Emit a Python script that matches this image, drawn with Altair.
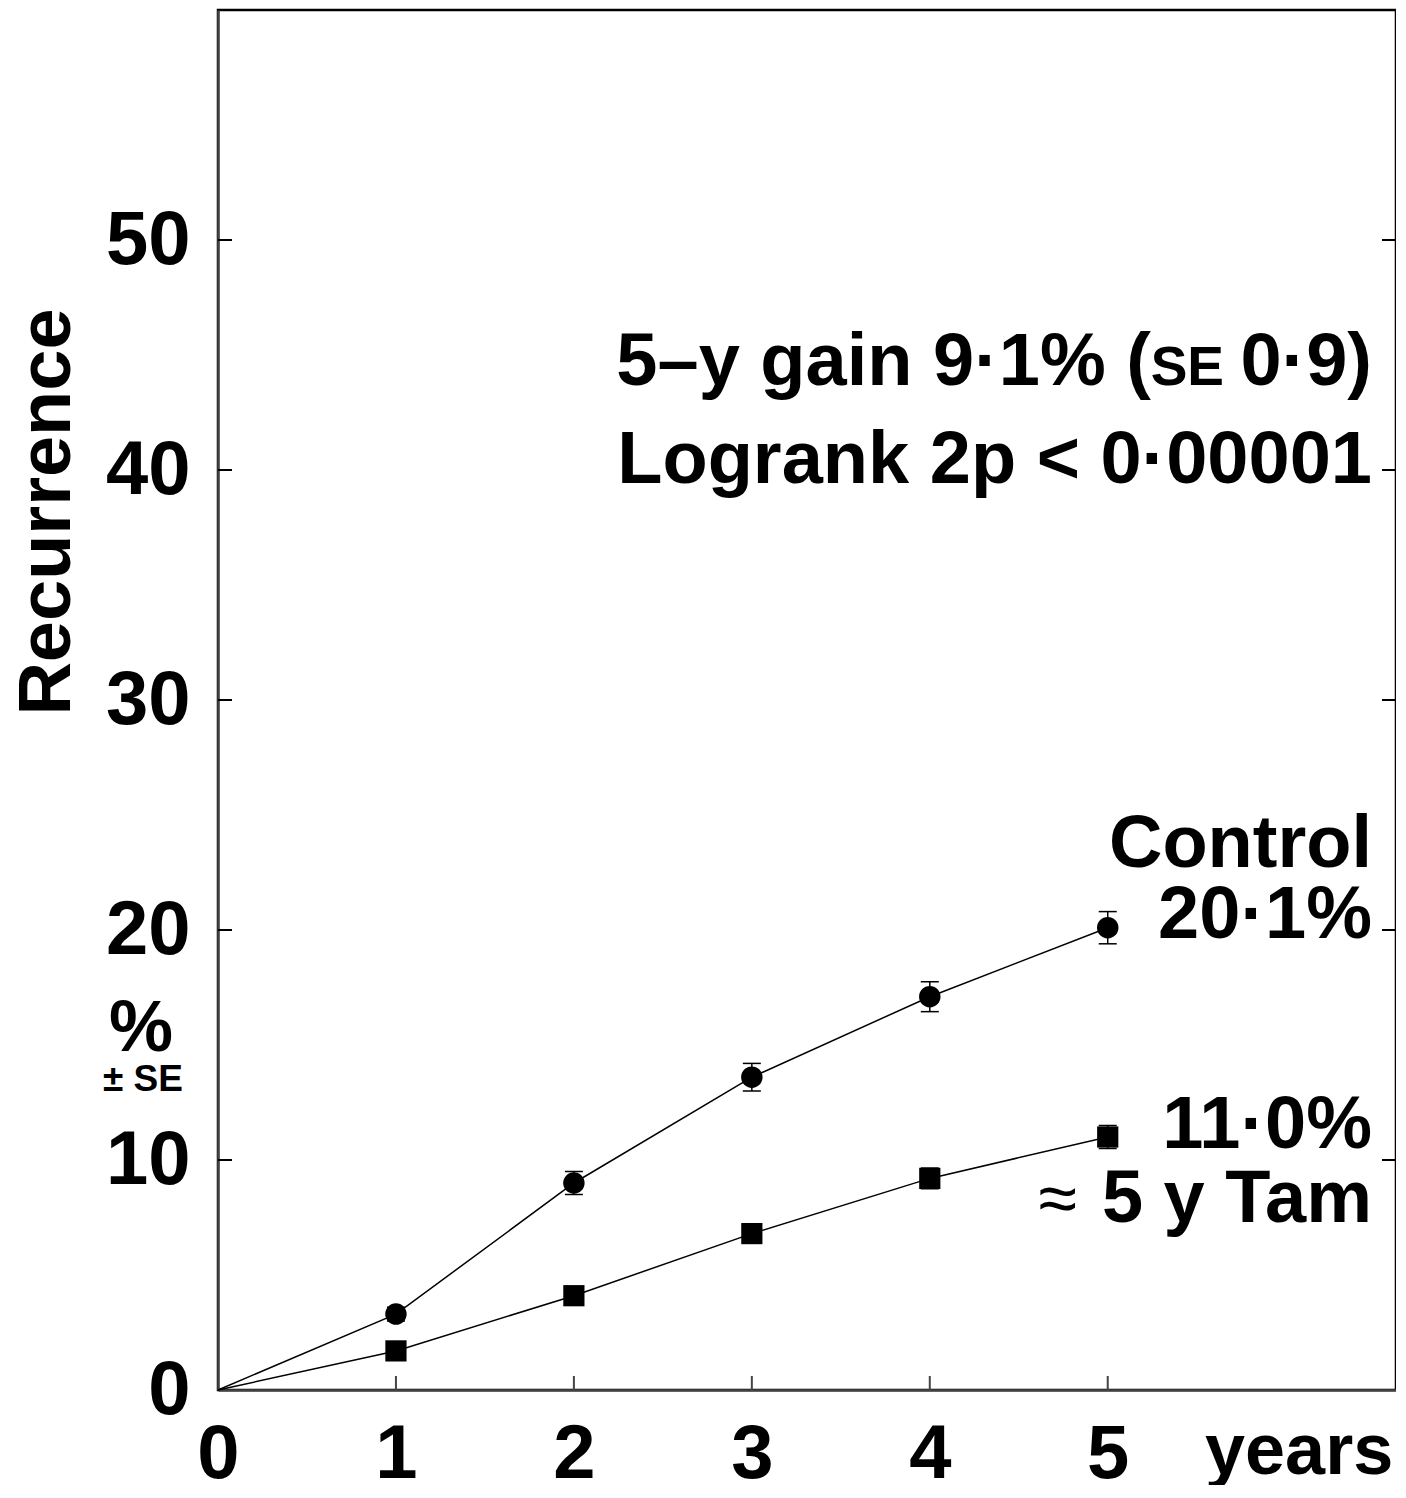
import altair as alt
import pandas as pd

years = [0, 1, 2, 3, 4, 5]
control = [0, 3.3, 9.0, 13.6, 17.1, 20.1]
control_se = [0, 0.3, 0.5, 0.6, 0.65, 0.7]
tam = [0, 1.7, 4.1, 6.8, 9.2, 11.0]
tam_se = [0, 0.3, 0.35, 0.4, 0.45, 0.5]

y_ticks = [0, 10, 20, 30, 40, 50]
x_ticks = [0, 1, 2, 3, 4, 5]

FONT = "Liberation Sans"
W, H = 1178, 1380
XMAX, YMAX = 6.62, 60

rows = []
for i, yr in enumerate(years):
    rows.append({"year": yr, "pct": control[i], "se": control_se[i], "group": "Control"})
    rows.append({"year": yr, "pct": tam[i], "se": tam_se[i], "group": "Tam"})
df = pd.DataFrame(rows)
df["lo"] = df["pct"] - df["se"]
df["hi"] = df["pct"] + df["se"]
pts = df[df["year"] > 0]

xs = alt.Scale(domain=[0, XMAX], nice=False, zero=True)
ys = alt.Scale(domain=[0, YMAX], nice=False, zero=True)

X = alt.X("year:Q", scale=xs,
          axis=alt.Axis(values=x_ticks, format="d", title=None, ticks=False, grid=False,
                        labelFontSize=76, labelFont=FONT, labelFontWeight="bold",
                        labelColor="black", labelPadding=27, domainColor="#444",
                        domainWidth=2.5, labelFlush=False))
Y = alt.Y("pct:Q", scale=ys,
          axis=alt.Axis(values=y_ticks, format="d", title=None, ticks=False, grid=False,
                        labelFontSize=76, labelFont=FONT, labelFontWeight="bold",
                        labelColor="black", labelPadding=28, domainColor="#444",
                        domainWidth=2.5, labelFlush=False))

base = alt.Chart(df)

lines = base.mark_line(color="black", strokeWidth=1.5).encode(
    x=X, y=Y, detail="group:N", order="year:Q")

err = alt.Chart(pts).mark_rule(color="black", strokeWidth=1.5).encode(
    x=alt.X("year:Q", scale=xs), y=alt.Y("lo:Q", scale=ys), y2="hi:Q")
cap_hi = alt.Chart(pts).mark_rule(color="black", strokeWidth=1.5, xOffset=-9, x2Offset=9).encode(
    x=alt.X("year:Q", scale=xs), x2="year:Q", y=alt.Y("hi:Q", scale=ys))
cap_lo = alt.Chart(pts).mark_rule(color="black", strokeWidth=1.5, xOffset=-9, x2Offset=9).encode(
    x=alt.X("year:Q", scale=xs), x2="year:Q", y=alt.Y("lo:Q", scale=ys))

circles = alt.Chart(pts[pts["group"] == "Control"]).mark_point(
    shape="circle", filled=True, size=460, color="black", opacity=1).encode(
    x=alt.X("year:Q", scale=xs), y=alt.Y("pct:Q", scale=ys))
squares = alt.Chart(pts[pts["group"] == "Tam"]).mark_point(
    shape="square", filled=True, size=450, color="black", opacity=1).encode(
    x=alt.X("year:Q", scale=xs), y=alt.Y("pct:Q", scale=ys))

ytick_df = pd.DataFrame({"v": y_ticks[1:]})
xtick_df = pd.DataFrame({"v": x_ticks[1:]})
left_ticks = alt.Chart(ytick_df).mark_rule(color="black", strokeWidth=2).encode(
    x=alt.value(0), x2=alt.value(14), y=alt.Y("v:Q", scale=ys))
right_ticks = alt.Chart(ytick_df).mark_rule(color="black", strokeWidth=2).encode(
    x=alt.value(W - 14), x2=alt.value(W), y=alt.Y("v:Q", scale=ys))
bottom_ticks = alt.Chart(xtick_df).mark_rule(color="#444", strokeWidth=2).encode(
    x=alt.X("v:Q", scale=xs), y=alt.value(H - 14), y2=alt.value(H))


def txt(s, x, y, size=74, align="right", weight="bold", angle=0, baseline="alphabetic"):
    return alt.Chart(pd.DataFrame({"t": [s]})).mark_text(
        font=FONT, fontSize=size, fontWeight=weight, align=align, baseline=baseline,
        color="black", angle=angle).encode(
        text="t:N", x=alt.value(x), y=alt.value(y))


RX = 1154
texts = [
    txt("5\u2013y gain 9\u00b71% (", RX - 221, 375),
    txt("SE", RX - 148, 375, size=55),
    txt("0\u00b79)", RX, 375),
    txt("Logrank 2p < 0\u00b700001", RX, 473),
    txt("Control", RX, 857),
    txt("20\u00b71%", RX, 928),
    txt("11\u00b70%", RX, 1138),
    txt("5 y Tam", RX, 1212),
    txt("\u2248", RX - 295, 1212, size=70, weight="normal"),
    txt("years", 987, 1464, size=72, align="left"),
    txt("Recurrence", -148, 502, size=74, align="center", angle=270),
    txt("%", -77, 1041, size=72, align="center"),
    txt("\u00b1 SE", -75, 1081, size=37, align="center"),
]

chart = alt.layer(
    lines, err, cap_hi, cap_lo, circles, squares,
    left_ticks, right_ticks, bottom_ticks, *texts
).properties(
    width=W, height=H,
    background="white",
    autosize=alt.AutoSizeParams(type="none"),
    padding={"left": 210, "top": 2, "right": 0, "bottom": 95},
).configure_view(
    stroke="black", strokeWidth=2.5
)

chart.save("out.html", embed_options={"renderer": "svg", "actions": False})
